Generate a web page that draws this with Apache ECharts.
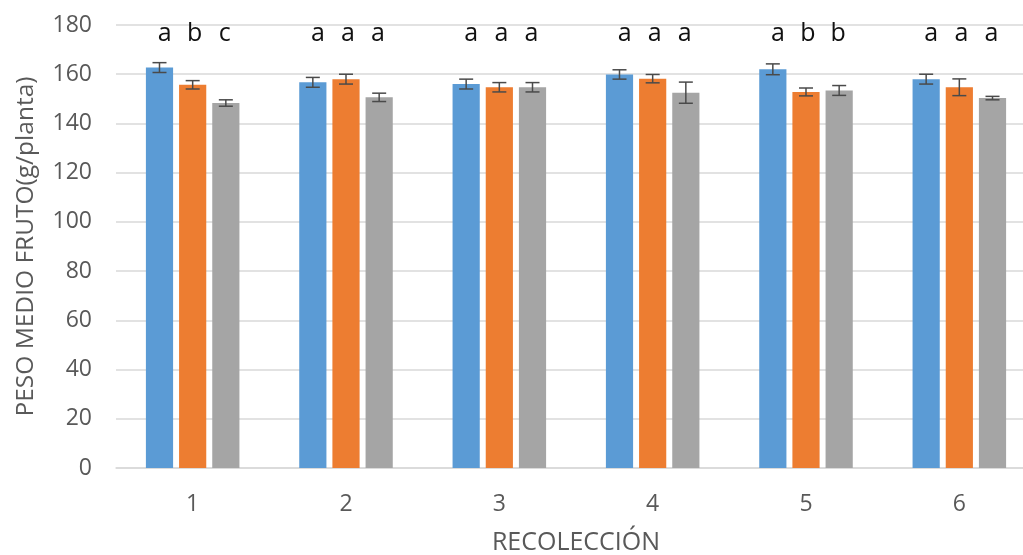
<!DOCTYPE html>
<html>
<head>
<meta charset="utf-8">
<script src="https://cdn.jsdelivr.net/npm/echarts@6/dist/echarts.min.js"></script>
<style>
  html, body { margin: 0; padding: 0; background: #fff; }
  #chart { width: 1023px; height: 555px; }
</style>
</head>
<body>
<div id="chart"></div>
<script>
// Harvest rounds
const categories = ['1', '2', '3', '4', '5', '6'];

// Mean fruit weight (g/plant) for the three treatments
const serieA = [162.7, 156.7, 156.0, 159.9, 162.0, 158.0];
const serieB = [155.7, 158.0, 154.7, 158.2, 152.8, 154.7];
const serieC = [148.3, 150.6, 154.7, 152.5, 153.4, 150.3];

// Standard error of each mean
const errA = [2.0, 2.0, 2.0, 1.9, 2.2, 2.0];
const errB = [1.7, 2.0, 1.9, 1.7, 1.6, 3.4];
const errC = [1.3, 1.7, 1.9, 4.3, 2.0, 0.7];

// Significance letters per harvest (treatments A, B, C)
const letras = [
  ['a', 'b', 'c'],
  ['a', 'a', 'a'],
  ['a', 'a', 'a'],
  ['a', 'a', 'a'],
  ['a', 'b', 'b'],
  ['a', 'a', 'a']
];

// Value axis ticks
const yMin = 0, yMax = 180, yStep = 20;

const colors = ['#5B9BD5', '#ED7D31', '#A5A5A5'];
const FONT = '"Open Sans", "DejaVu Sans", sans-serif';
const CAT_GAP = 0.39;   // fraction of the band left empty
const BAR_GAP = 0.22;   // gap between bars, relative to bar width

const valores = [serieA, serieB, serieC];
const errores = [errA, errB, errC];

// Horizontal offset of bar k inside a category band of the given width
function barOffset(band, k) {
  const group = band * (1 - CAT_GAP);
  const w = group / (3 + 2 * BAR_GAP);
  return -group / 2 + w / 2 + k * w * (1 + BAR_GAP);
}

const series = valores.map((vals, k) => ({
  type: 'bar',
  data: vals,
  itemStyle: { color: colors[k] },
  barGap: (BAR_GAP * 100) + '%',
  barCategoryGap: (CAT_GAP * 100) + '%',
  silent: true,
  z: 2
}));

// Error bars with caps, one custom series per treatment
valores.forEach((vals, k) => {
  series.push({
    type: 'custom',
    silent: true,
    z: 5,
    data: vals.map((v, i) => [i, v - errores[k][i], v + errores[k][i]]),
    renderItem: function (params, api) {
      const i = api.value(0);
      const lo = api.coord([i, api.value(1)]);
      const hi = api.coord([i, api.value(2)]);
      const band = api.size([1, 0])[0];
      const x = lo[0] + barOffset(band, k);
      const cap = 7;
      const st = { stroke: '#4a4a4a', lineWidth: 1.5 };
      return {
        type: 'group',
        children: [
          { type: 'line', shape: { x1: x, y1: lo[1], x2: x, y2: hi[1] }, style: st },
          { type: 'line', shape: { x1: x - cap, y1: hi[1], x2: x + cap, y2: hi[1] }, style: st },
          { type: 'line', shape: { x1: x - cap, y1: lo[1], x2: x + cap, y2: lo[1] }, style: st }
        ]
      };
    }
  });
});

// Significance letters above each group
series.push({
  type: 'custom',
  silent: true,
  z: 6,
  data: letras.map((l, i) => [i, yMax]),
  renderItem: function (params, api) {
    const i = api.value(0);
    const p = api.coord([i, api.value(1)]);
    const band = api.size([1, 0])[0];
    const spacing = band * 0.196;
    return {
      type: 'group',
      children: letras[i].map((t, k) => ({
        type: 'text',
        style: {
          text: t,
          x: p[0] + (k - 1) * spacing + 2,
          y: p[1] + 9,
          align: 'center',
          verticalAlign: 'middle',
          fill: '#111',
          font: '25px ' + FONT
        }
      }))
    };
  }
});

const chart = echarts.init(document.getElementById('chart'), null, { renderer: 'canvas' });
chart.setOption({
  animation: false,
  backgroundColor: '#fff',
  grid: { left: 116, right: -13, top: 25, bottom: 87, containLabel: false, outerBoundsMode: 'none' },
  xAxis: {
    type: 'category',
    data: categories,
    name: 'RECOLECCIÓN',
    nameLocation: 'middle',
    nameGap: 62,
    nameTextStyle: { color: '#595959', fontSize: 25, fontFamily: FONT },
    axisLine: { lineStyle: { color: '#D9D9D9', width: 1.5 } },
    axisTick: { show: false },
    axisLabel: { color: '#595959', fontSize: 23, fontFamily: FONT, margin: 25 }
  },
  yAxis: {
    type: 'value',
    min: yMin,
    max: yMax,
    interval: yStep,
    name: 'PESO MEDIO FRUTO(g/planta)',
    nameLocation: 'middle',
    nameGap: 77,
    nameTextStyle: { color: '#595959', fontSize: 24.5, fontFamily: FONT },
    axisLine: { show: false },
    axisTick: { show: false },
    axisLabel: { color: '#595959', fontSize: 23, fontFamily: FONT, margin: 24 },
    splitLine: { lineStyle: { color: '#D9D9D9', width: 1.5 } }
  },
  series: series
});
</script>
</body>
</html>
